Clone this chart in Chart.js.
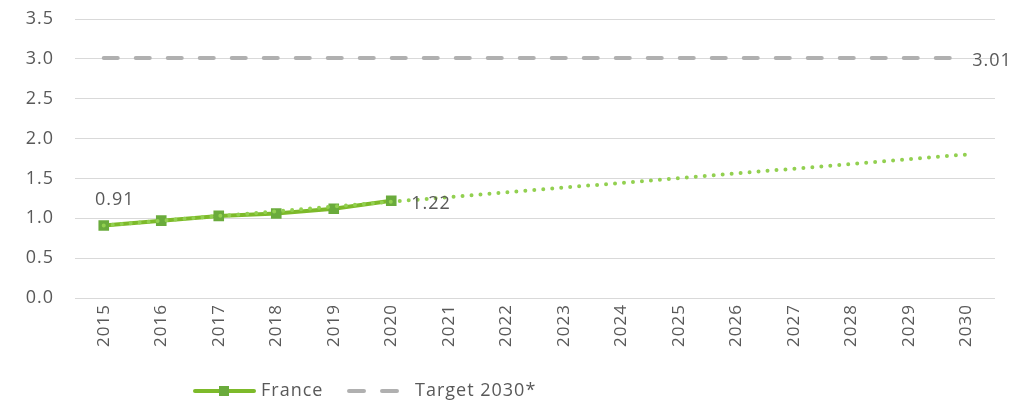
<!DOCTYPE html>
<html>
<head>
<meta charset="utf-8">
<script src="https://cdn.jsdelivr.net/npm/chart.js@4"></script>
<style>
  html, body { margin: 0; padding: 0; background: #fff; }
  #wrap { width: 1036px; height: 402px; position: relative; }
</style>
</head>
<body>
<div id="wrap"><canvas id="chart" width="1036" height="402"></canvas></div>
<script>
// Years on the x axis
const years = ['2015', '2016', '2017', '2018', '2019', '2020', '2021', '2022',
  '2023', '2024', '2025', '2026', '2027', '2028', '2029', '2030'];

// Observed values for France
const france = [0.91, 0.97, 1.03, 1.06, 1.12, 1.22];

// Linear trend: start and end of the dotted line
const trend = [0.91, null, null, null, null, null, null, null,
  null, null, null, null, null, null, null, 1.80];

// Flat 2030 target
const target = years.map(() => 3.01);

const yTicks = [0, 0.5, 1, 1.5, 2, 2.5, 3, 3.5];

const textColor = '#595959';
const fontFamily = '"Open Sans", Lato, sans-serif';

// slightly spaced-out lettering everywhere on the canvas
const spacing = {
  id: 'spacing',
  beforeInit(chart) { chart.ctx.letterSpacing = '1px'; },
  beforeDraw(chart) { chart.ctx.letterSpacing = '1px'; }
};

// Value labels next to selected points + bottom legend
const annotations = {
  id: 'annotations',
  afterDatasetsDraw(chart) {
    const ctx = chart.ctx;
    const fr = chart.getDatasetMeta(1).data;
    const tg = chart.getDatasetMeta(2).data;
    ctx.save();
    ctx.fillStyle = textColor;
    ctx.font = '18px ' + fontFamily;
    ctx.textBaseline = 'middle';
    ctx.textAlign = 'center';
    ctx.fillText(france[0].toFixed(2), fr[0].x + 11, fr[0].y - 26);
    ctx.textAlign = 'left';
    const last = fr[france.length - 1];
    ctx.fillText(france[france.length - 1].toFixed(2), last.x + 20, last.y + 3);
    const tl = tg[tg.length - 1];
    ctx.fillText(target[target.length - 1].toFixed(2), tl.x + 6, tl.y + 3);
    ctx.restore();
  },
  afterDraw(chart) {
    const ctx = chart.ctx;
    const y = 391;
    ctx.save();
    ctx.lineCap = 'round';
    // France
    ctx.strokeStyle = '#7dba2a';
    ctx.lineWidth = 4;
    ctx.beginPath();
    ctx.moveTo(195, y);
    ctx.lineTo(254, y);
    ctx.stroke();
    ctx.fillStyle = '#6aab3c';
    ctx.fillRect(219, y - 5, 10, 10);
    // Target
    ctx.strokeStyle = '#b0b0b0';
    ctx.beginPath();
    ctx.moveTo(349, y);
    ctx.lineTo(364, y);
    ctx.moveTo(382, y);
    ctx.lineTo(397, y);
    ctx.stroke();
    ctx.fillStyle = textColor;
    ctx.font = '18px ' + fontFamily;
    ctx.textBaseline = 'middle';
    ctx.textAlign = 'left';
    ctx.fillText('France', 261, y);
    ctx.fillText('Target 2030*', 415, y);
    ctx.restore();
  }
};

new Chart(document.getElementById('chart'), {
  type: 'line',
  data: {
    labels: years,
    datasets: [
      {
        label: 'Trend',
        data: trend,
        borderColor: '#92d050',
        borderWidth: 4,
        borderDash: [0, 9],
        borderCapStyle: 'round',
        spanGaps: true,
        pointRadius: 0,
        order: 0
      },
      {
        label: 'France',
        data: france,
        borderColor: '#7dba2a',
        borderWidth: 4,
        pointStyle: 'rect',
        pointRadius: 7.5,
        pointBackgroundColor: '#6aab3c',
        pointBorderWidth: 0,
        order: 1
      },
      {
        label: 'Target 2030*',
        data: target,
        borderColor: '#b0b0b0',
        borderWidth: 4,
        borderDash: [14, 18],
        borderCapStyle: 'round',
        pointRadius: 0,
        order: 2
      }
    ]
  },
  options: {
    responsive: false,
    animation: false,
    layout: { padding: { top: 19, right: 41, bottom: 40, left: 0 } },
    plugins: {
      legend: { display: false },
      tooltip: { enabled: false }
    },
    scales: {
      x: {
        offset: true,
        grid: { display: false, drawTicks: false },
        border: { display: false },
        ticks: {
          color: textColor,
          font: { family: fontFamily, size: 17 },
          minRotation: 90,
          maxRotation: 90,
          padding: 6,
          autoSkip: false
        },
        afterFit(scale) { scale.height = 64; }
      },
      y: {
        min: 0,
        max: 3.5,
        grid: { color: '#d9d9d9', lineWidth: 1, drawTicks: false },
        border: { display: false },
        afterBuildTicks(scale) { scale.ticks = yTicks.map(v => ({ value: v })); },
        ticks: {
          color: textColor,
          font: { family: fontFamily, size: 18 },
          padding: 21,
          callback: v => v.toFixed(1)
        },
        afterFit(scale) {
          scale.width = 75;
          scale.paddingTop = 0;
          scale.paddingBottom = 0;
        }
      }
    }
  },
  plugins: [spacing, annotations]
});
</script>
</body>
</html>
